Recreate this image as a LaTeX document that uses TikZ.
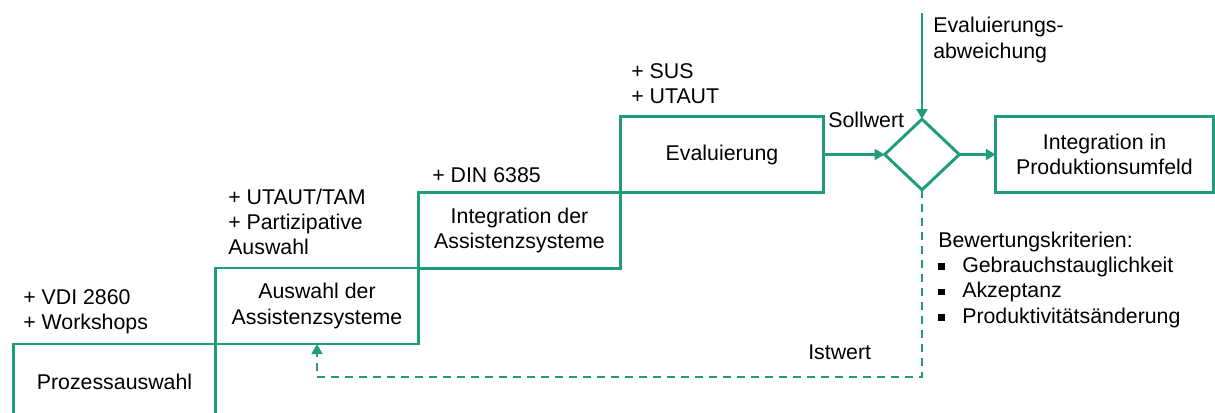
\documentclass[tikz,border=0pt]{standalone}
\usepackage{fontspec}
\setmainfont{Liberation Sans}
\usetikzlibrary{arrows.meta,shapes.geometric}
\definecolor{vdigreen}{HTML}{1F9C7C}
\tikzset{stage/.style={draw=vdigreen, line width=2.2pt, minimum width=152pt, minimum height=57pt, align=center, inner sep=0pt, outer sep=0pt}, check/.style={diamond, draw=vdigreen, line width=2.2pt, minimum width=56pt, minimum height=53pt, inner sep=0pt, outer sep=0pt}, flow/.style={-{Triangle[length=7.5pt,width=8pt]}, line width=2.2pt, color=vdigreen}, feedback/.style={flow, dash pattern=on 6pt off 4.5pt}, note/.style={anchor=west, align=left, inner sep=0pt}}
\newcommand{\crit}[1]{\makebox[18pt][l]{\rule[0.2ex]{5pt}{5pt}}#1}

\begin{document}
\begin{tikzpicture}[x=0.75pt,y=-0.75pt,font=\fontsize{16}{19}\selectfont]
\useasboundingbox (0,0) rectangle (1215,412);
\clip (0,0) rectangle (1215,412);
\node[stage] (proz) at (114.5,382) {Prozessauswahl};
\node[stage] (ausw) at (317,306) {Auswahl der\\Assistenzsysteme};
\node[stage] (integ) at (519.5,230.5) {Integration der\\Assistenzsysteme};
\node[stage] (eval) at (722,154.5) {Evaluierung};
\node[check] (dia) at (922,154.5) {};
\node[stage, minimum width=163pt] (prod) at (1104.5,154.5) {Integration in\\Produktionsumfeld};
\coordinate (abw) at (922,13);
\coordinate (ist) at (922,377);
\draw[flow] (eval) -- (dia);
\draw[flow] (dia) -- (prod);
\draw[flow] (abw) -- (dia);
\draw[feedback] (dia.south) -- (ist) -| (ausw.south);
\node[note] (vdi) at (23,311.5) {+ VDI 2860\\+ Workshops};
\node[note] (utaut) at (228,222) {+ UTAUT/TAM\\+ Partizipative\\Auswahl};
\node[note] (din) at (432,175) {+ DIN 6385};
\node[note] (sus) at (631,83.5) {+ SUS\\+ UTAUT};
\node[note] (soll) at (828,120) {Sollwert};
\node[note] (evabw) at (933,40) {Evaluierungs-\\abweichung};
\node[note] (krit) at (938,279.5) {Bewertungskriterien:\\\crit{Gebrauchstauglichkeit}\\\crit{Akzeptanz}\\\crit{Produktivitätsänderung}};
\node[note] (istw) at (808,352) {Istwert};
\end{tikzpicture}
\end{document}
